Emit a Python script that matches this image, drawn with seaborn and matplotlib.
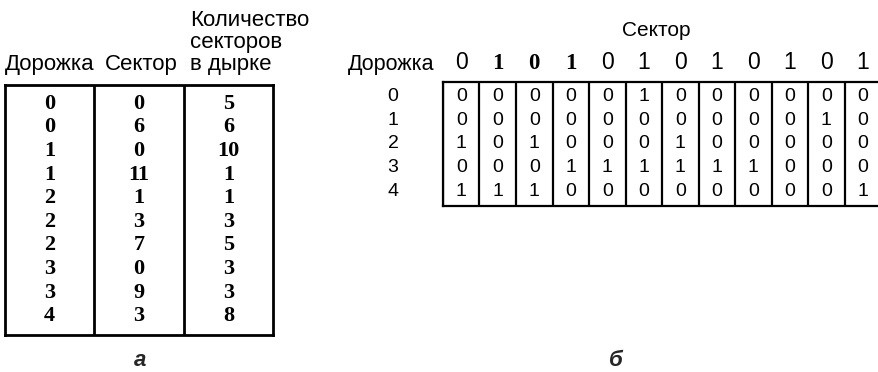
import numpy as np
import pandas as pd
import matplotlib
matplotlib.use("Agg")
import matplotlib.pyplot as plt
import seaborn as sns
from matplotlib.colors import ListedColormap

# --- table a: list of holes (track, start sector, length) ---
hole_tracks = [0, 0, 1, 1, 2, 2, 2, 3, 3, 4]
hole_sectors = [0, 6, 0, 11, 1, 3, 7, 0, 9, 3]
hole_lengths = [5, 6, 10, 1, 1, 3, 5, 3, 3, 8]

# --- table b: bitmap, one row per track ---
sector_header = ["0", "1", "0", "1", "0", "1", "0", "1", "0", "1", "0", "1"]
track_labels = ["0", "1", "2", "3", "4"]
bitmap_rows = [
    [0, 0, 0, 0, 0, 1, 0, 0, 0, 0, 0, 0],
    [0, 0, 0, 0, 0, 0, 0, 0, 0, 0, 1, 0],
    [1, 0, 1, 0, 0, 0, 1, 0, 0, 0, 0, 0],
    [0, 0, 0, 1, 1, 1, 1, 1, 1, 0, 0, 0],
    [1, 1, 1, 0, 0, 0, 0, 0, 0, 0, 0, 1],
]

W, H = 879, 372


def fx(x):
    return x / W


def fy(y):
    return (H - y) / H


sns.set_theme(style="white")
plt.rcParams["font.family"] = ["Liberation Sans", "DejaVu Sans"]

fig = plt.figure(figsize=(W / 100, H / 100), dpi=100)
white = ListedColormap(["white"])

# --- table a ---
holes = pd.DataFrame({"track": hole_tracks, "sector": hole_sectors, "length": hole_lengths})
ax_a = fig.add_axes([fx(5), fy(335), fx(273) - fx(5), fy(85) - fy(335)])
sns.heatmap(holes, annot=True, fmt="d", cmap=white, cbar=False, ax=ax_a,
            xticklabels=False, yticklabels=False,
            annot_kws={"fontsize": 16, "fontweight": "bold",
                       "family": "Liberation Serif", "color": "black"})
ax_a.set_ylim(len(hole_tracks) + 0.3, -0.3)
ax_a.set_xlim(0, 3)
ax_a.vlines([1, 2], *ax_a.get_ylim(), color="black", lw=2)
for s in ax_a.spines.values():
    s.set_visible(True)
    s.set_color("black")
    s.set_linewidth(2)

head_kw = dict(fontsize=16, color="black", va="baseline", ha="left")
fig.text(fx(5), fy(70), "Дорожка", **head_kw)
fig.text(fx(105), fy(70), "Сектор", **head_kw)
# multi-line header: baseline is taken from the last line
fig.text(fx(190), fy(70), "Количество\nсекторов\nв дырке", linespacing=1.05, **head_kw)
fig.text(fx(140), fy(361), "а", fontsize=16, fontweight="bold", fontstyle="italic",
         ha="center", va="center")

# --- table b ---
bitmap = pd.DataFrame(bitmap_rows, index=track_labels)
ax_b = fig.add_axes([fx(443), fy(206), fx(881) - fx(443), fy(82) - fy(206)])
sns.heatmap(bitmap, annot=True, fmt="d", cmap=white, cbar=False, ax=ax_b,
            xticklabels=sector_header, yticklabels=track_labels,
            annot_kws={"fontsize": 14, "color": "black"})
ax_b.set_ylim(len(track_labels) + 0.1, -0.1)
ax_b.set_xlim(0, len(sector_header))
ax_b.vlines(np.arange(len(sector_header) + 1), *ax_b.get_ylim(), color="black", lw=1.6)
for name, s in ax_b.spines.items():
    s.set_visible(name != "right")
    s.set_color("black")
    s.set_linewidth(1.6)

ax_b.xaxis.tick_top()
ax_b.tick_params(axis="x", length=0, pad=6, labelsize=16.5, labelcolor="black")
ax_b.tick_params(axis="y", length=0, pad=32, labelsize=14, labelcolor="black")
plt.setp(ax_b.get_yticklabels(), rotation=0)
plt.setp(ax_b.get_xticklabels(), rotation=0)
for i, lab in enumerate(ax_b.get_xticklabels()):
    if i in (1, 2, 3):
        lab.set_fontfamily("Liberation Serif")
        lab.set_fontweight("bold")

fig.text(fx(348), fy(70), "Дорожка", fontsize=15.5, color="black", ha="left", va="baseline")
fig.text(fx(656), fy(36), "Сектор", fontsize=15, color="black", ha="center", va="baseline")
fig.text(fx(616), fy(361), "б", fontsize=16, fontweight="bold", fontstyle="italic",
         ha="center", va="center")

fig.savefig("out.png", dpi=100)
